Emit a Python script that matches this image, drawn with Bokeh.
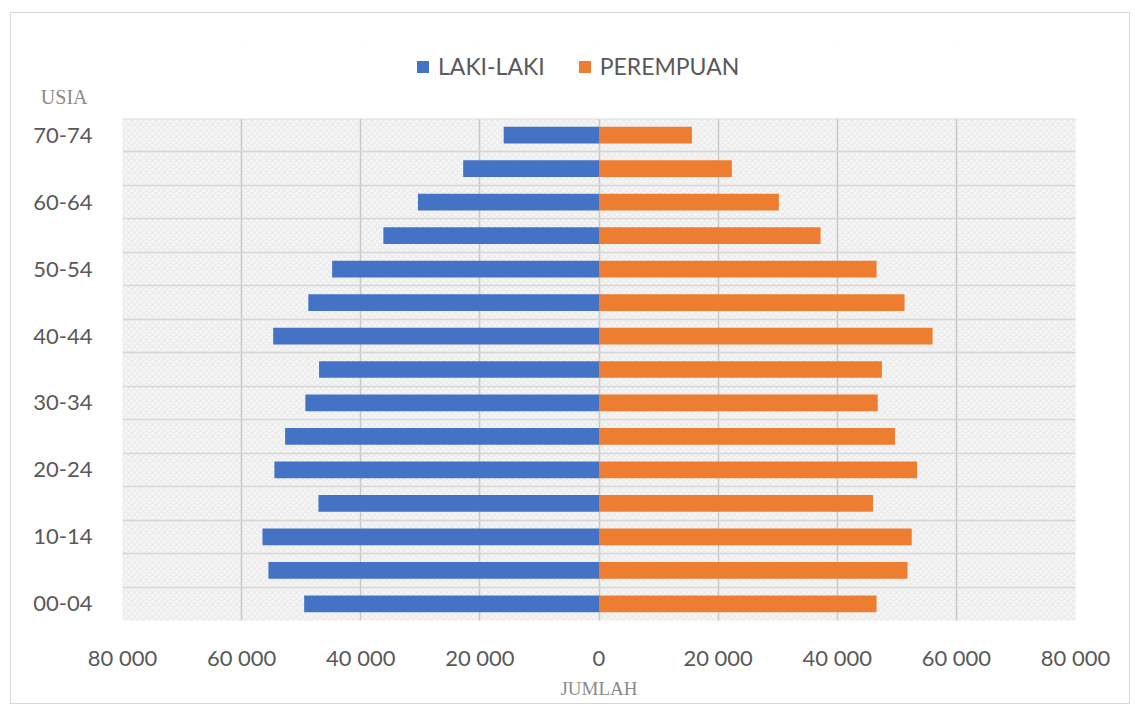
import numpy as np
from bokeh.plotting import figure
from bokeh.models import (ColumnDataSource, FixedTicker, Legend, LegendItem,
                          BoxAnnotation, LinearAxis)
from bokeh.embed import file_html
from bokeh.resources import INLINE

ages = ["00-04", "05-09", "10-14", "15-19", "20-24", "25-29", "30-34", "35-39",
        "40-44", "45-49", "50-54", "55-59", "60-64", "65-69", "70-74"]
laki = [49500, 55500, 56500, 47100, 54500, 52700, 49300, 47000,
        54700, 48800, 44800, 36200, 30400, 22800, 16000]
perempuan = [46600, 51800, 52500, 46000, 53400, 49700, 46800, 47500,
             56000, 51300, 46600, 37200, 30200, 22300, 15600]
x_ticks = [-80000, -60000, -40000, -20000, 0, 20000, 40000, 60000, 80000]

idx = list(range(len(ages)))
src = ColumnDataSource(dict(
    y=idx,
    m_left=[-v for v in laki],
    zero=[0] * len(ages),
    f_right=perempuan,
))

BLUE = "#4472C4"
ORANGE = "#ED7D31"
TXT = "#595959"
FONT = "Lato"

# layout: plot area is 502px tall for the rows; frame extends 78px higher
ROW_PX = 502 / len(ages)
area_top = len(ages) - 0.5
y_end = area_top + 78 / ROW_PX
usia_pos = round(area_top + 22 / ROW_PX, 3)

p = figure(width=1120, height=692,
           x_range=(x_ticks[0], x_ticks[-1]),
           y_range=(-0.5, y_end),
           output_backend="svg", toolbar_location=None,
           min_border_left=111, min_border_right=56,
           min_border_top=27, min_border_bottom=85,
           background_fill_color="white", border_fill_color="white")

p.styles = {"border": "1px solid #d9d9d9", "margin-left": "10px", "margin-top": "12px"}
p.outline_line_color = None

# hatched plot area
bg = BoxAnnotation(top=area_top, fill_color="#f5f5f5", fill_alpha=1.0,
                   hatch_pattern="x", hatch_color="#dcdcdc",
                   hatch_scale=6, hatch_weight=0.6,
                   line_color="#d4d4d4", line_width=1.5, level="image")
p.add_layout(bg)

# white mask above the plot area (hides grid lines there)
mask = BoxAnnotation(bottom=area_top, fill_color="white", fill_alpha=1.0,
                     line_alpha=0, level="glyph")
p.add_layout(mask)

r_m = p.hbar(y="y", left="m_left", right="zero", height=0.5, source=src,
             fill_color=BLUE, line_color=None)
r_f = p.hbar(y="y", left="zero", right="f_right", height=0.5, source=src,
             fill_color=ORANGE, line_color=None)

# grids
p.xgrid.ticker = FixedTicker(ticks=x_ticks)
p.xgrid.grid_line_color = "#c8c8c8"
p.xgrid.grid_line_width = 1.5
p.xgrid.level = "underlay"
p.ygrid.ticker = FixedTicker(ticks=[i - 0.5 for i in range(len(ages) + 1)])
p.ygrid.grid_line_color = "#d6d6d6"
p.ygrid.grid_line_width = 1.3
p.ygrid.level = "underlay"

# x axis
p.xaxis.ticker = FixedTicker(ticks=x_ticks)
p.xaxis.major_label_overrides = {t: f"{abs(t):,}".replace(",", " ") for t in x_ticks}
p.xaxis.axis_line_color = None
p.xaxis.major_tick_line_color = None
p.xaxis.minor_tick_line_color = None
p.xaxis.major_label_standoff = 17
p.xaxis.major_label_text_font = FONT
p.xaxis.major_label_text_font_size = "22px"
p.xaxis.major_label_text_color = TXT
p.xaxis.axis_label = "JUMLAH"
p.xaxis.axis_label_text_font = "Liberation Serif"
p.xaxis.axis_label_text_font_style = "normal"
p.xaxis.axis_label_text_font_size = "19px"
p.xaxis.axis_label_text_color = "#8a8a8a"
p.xaxis.axis_label_standoff = 4

# y axis
ytick_pos = idx[::2]
p.yaxis.ticker = FixedTicker(ticks=ytick_pos)
p.yaxis.major_label_overrides = {i: ages[i] for i in ytick_pos}
p.yaxis.axis_line_color = None
p.yaxis.major_tick_line_color = None
p.yaxis.minor_tick_line_color = None
p.yaxis.major_label_standoff = 24
p.yaxis.major_label_text_font = FONT
p.yaxis.major_label_text_font_size = "22px"
p.yaxis.major_label_text_color = TXT

# "USIA" heading via a second left axis with a single tick
usia_axis = LinearAxis(ticker=FixedTicker(ticks=[usia_pos]),
                       major_label_overrides={usia_pos: "USIA"},
                       axis_line_color=None, major_tick_line_color=None,
                       minor_tick_line_color=None, major_label_standoff=-63,
                       major_label_text_font="Liberation Serif",
                       major_label_text_font_size="20px",
                       major_label_text_color="#8a8a8a")
p.add_layout(usia_axis, "left")

legend = Legend(items=[LegendItem(label="LAKI-LAKI", renderers=[r_m]),
                       LegendItem(label="PEREMPUAN", renderers=[r_f])],
                orientation="horizontal", location=(293, 540),
                glyph_width=15, glyph_height=15, label_standoff=8, spacing=32,
                label_text_font=FONT, label_text_font_size="23px",
                label_text_color=TXT, border_line_alpha=0,
                background_fill_alpha=0, padding=0, margin=0)
p.add_layout(legend, "center")

open("out.html", "w").write(file_html(p, INLINE))
